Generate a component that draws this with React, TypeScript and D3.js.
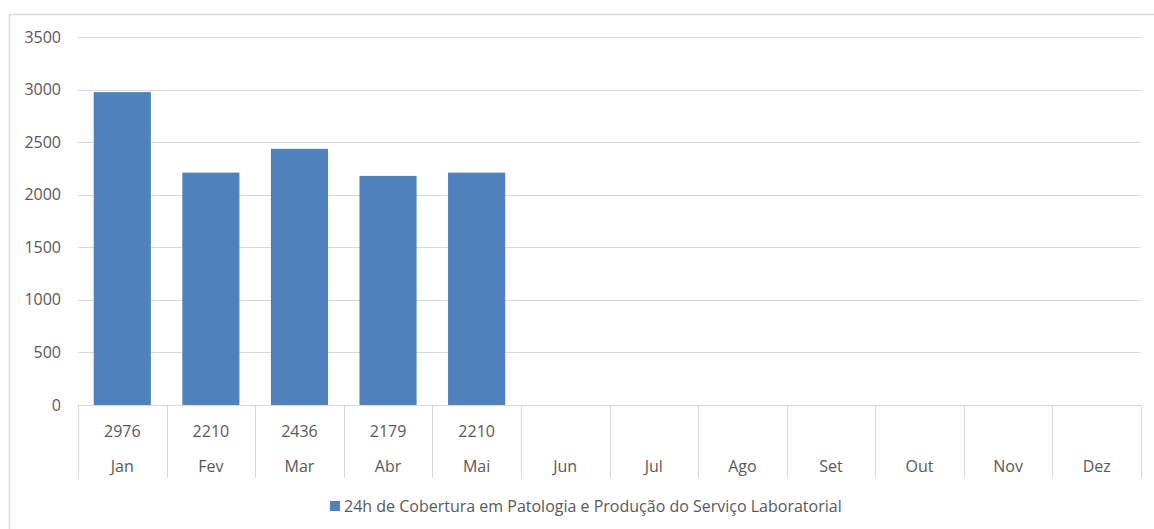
import React from "react";
import * as d3 from "d3";

const months = ["Jan", "Fev", "Mar", "Abr", "Mai", "Jun", "Jul", "Ago", "Set", "Out", "Nov", "Dez"];
const values: (number | null)[] = [2976, 2210, 2436, 2179, 2210, null, null, null, null, null, null, null];
const yTicks = [0, 500, 1000, 1500, 2000, 2500, 3000, 3500];
const seriesName = "24h de Cobertura em Patologia e Produção do Serviço Laboratorial";

const W = 1154;
const H = 529;
const left = 78;
const right = 1141;
const top = 37;
const bottom = 405;
const tableBottom = 478;
const font = "'Open Sans', sans-serif";
const fs = 16;
const textColor = "#595959";
const gridColor = "#D9D9D9";
const barColor = "#4F81BD";

export default function App() {
  const x = d3.scaleBand<string>().domain(months).range([left, right]).padding(0);
  const y = d3.scaleLinear().domain([0, 3500]).range([bottom, top]);
  const barW = x.bandwidth() * 0.645;

  return (
    <svg width={W} height={H} style={{ position: "absolute", left: 0, top: 0 }}>
      <rect x={0} y={0} width={W} height={H} fill="#fff" />
      {/* outer chart border */}
      <path d={`M9.5,${H} V14.5 H${W}`} fill="none" stroke={gridColor} strokeWidth={1.5} />

      {yTicks.map((t) => (
        <g key={t}>
          <line x1={left} x2={right} y1={Math.round(y(t)) + 0.5} y2={Math.round(y(t)) + 0.5} stroke={gridColor} strokeWidth={1} />
          <text x={61} y={y(t)} dy="0.35em" textAnchor="end" fontFamily={font} fontSize={fs} fill={textColor}>
            {t}
          </text>
        </g>
      ))}

      {months.map((m, i) =>
        values[i] == null ? null : (
          <rect
            key={m}
            x={x(m)! + (x.bandwidth() - barW) / 2}
            y={y(values[i] as number)}
            width={barW}
            height={bottom - y(values[i] as number)}
            fill={barColor}
          />
        )
      )}

      {/* data table */}
      {[...months.map((m) => x(m)!), right].map((px, i) => (
        <line key={i} x1={Math.round(px) + 0.5} x2={Math.round(px) + 0.5} y1={bottom} y2={tableBottom} stroke={gridColor} strokeWidth={1} />
      ))}
      {months.map((m, i) => (
        <g key={m}>
          {values[i] != null && (
            <text x={x(m)! + x.bandwidth() / 2} y={431} dy="0.35em" textAnchor="middle" fontFamily={font} fontSize={fs} fill={textColor}>
              {values[i]}
            </text>
          )}
          <text x={x(m)! + x.bandwidth() / 2} y={466} dy="0.35em" textAnchor="middle" fontFamily={font} fontSize={fs} fill={textColor}>
            {m}
          </text>
        </g>
      ))}

      {/* legend */}
      <g>
        <rect x={330} y={501} width={10} height={10} fill={barColor} />
        <text x={344} y={506} dy="0.35em" fontFamily={font} fontSize={fs} fill={textColor}>
          {seriesName}
        </text>
      </g>
    </svg>
  );
}
